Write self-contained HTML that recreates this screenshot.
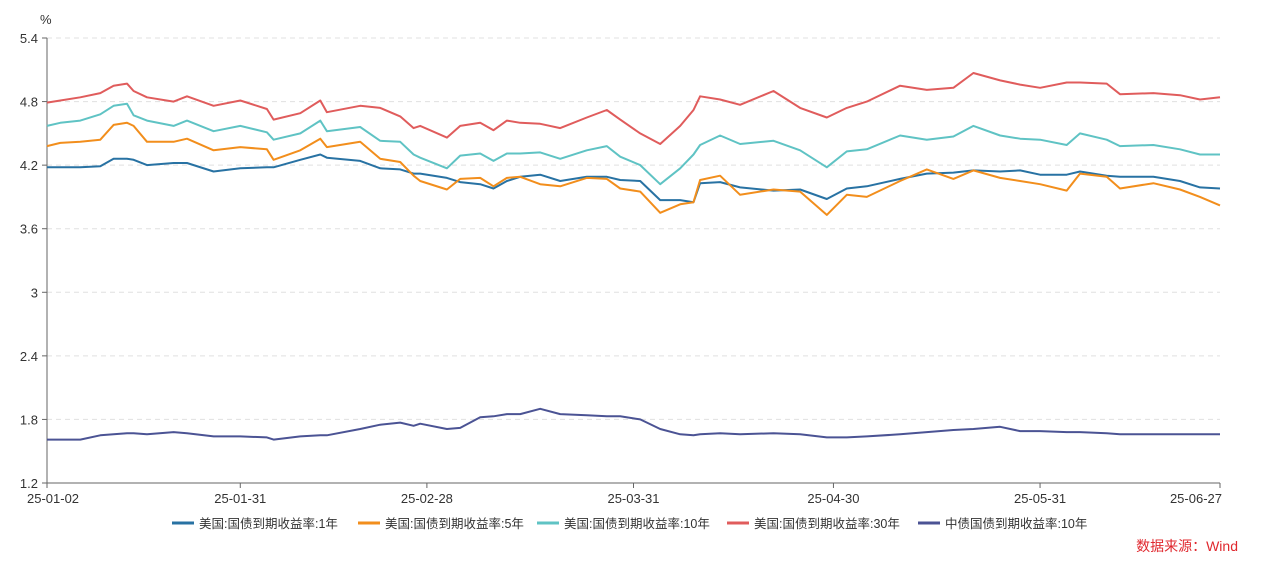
<!DOCTYPE html>
<html><head><meta charset="utf-8"><style>
body{margin:0;background:#fff;font-family:"Liberation Sans","Noto Sans CJK SC",sans-serif}
svg text{font-family:"Liberation Sans","Noto Sans CJK SC",sans-serif}
</style></head><body>
<svg id="c" width="1266" height="567" xmlns="http://www.w3.org/2000/svg"></svg>
<script>
const days=[0,2,5,8,10,12,13,15,19,21,25,29,33,34,38,41,42,47,50,53,55,56,60,62,65,67,69,71,74,77,81,84,86,89,92,95,97,98,101,104,109,113,117,120,123,128,132,136,139,143,146,149,153,155,159,161,166,170,173,176];
const us1=[4.18,4.18,4.18,4.19,4.26,4.26,4.25,4.20,4.22,4.22,4.14,4.17,4.18,4.18,4.25,4.30,4.27,4.24,4.17,4.16,4.12,4.12,4.08,4.04,4.02,3.98,4.05,4.09,4.11,4.05,4.09,4.09,4.06,4.05,3.87,3.87,3.85,4.03,4.04,3.99,3.96,3.97,3.88,3.98,4.00,4.07,4.12,4.13,4.15,4.14,4.15,4.11,4.11,4.14,4.10,4.09,4.09,4.05,3.99,3.98];
const us5=[4.38,4.41,4.42,4.44,4.58,4.60,4.57,4.42,4.42,4.45,4.34,4.37,4.35,4.25,4.34,4.45,4.37,4.42,4.26,4.23,4.10,4.05,3.97,4.07,4.08,4.00,4.08,4.09,4.02,4.00,4.08,4.07,3.98,3.95,3.75,3.83,3.85,4.06,4.10,3.92,3.97,3.95,3.73,3.92,3.90,4.05,4.16,4.07,4.15,4.08,4.05,4.02,3.96,4.12,4.09,3.98,4.03,3.97,3.90,3.82];
const us10=[4.57,4.60,4.62,4.68,4.76,4.78,4.67,4.62,4.57,4.62,4.52,4.57,4.51,4.44,4.50,4.62,4.52,4.56,4.43,4.42,4.30,4.27,4.17,4.29,4.31,4.24,4.31,4.31,4.32,4.26,4.34,4.38,4.28,4.20,4.02,4.17,4.30,4.39,4.48,4.40,4.43,4.34,4.18,4.33,4.35,4.48,4.44,4.47,4.57,4.48,4.45,4.44,4.39,4.50,4.44,4.38,4.39,4.35,4.30,4.30];
const us30=[4.79,4.81,4.84,4.88,4.95,4.97,4.90,4.84,4.80,4.85,4.76,4.81,4.73,4.63,4.69,4.81,4.70,4.76,4.74,4.66,4.55,4.57,4.46,4.57,4.60,4.53,4.62,4.60,4.59,4.55,4.65,4.72,4.63,4.50,4.40,4.57,4.72,4.85,4.82,4.77,4.90,4.74,4.65,4.74,4.80,4.95,4.91,4.93,5.07,5.00,4.96,4.93,4.98,4.98,4.97,4.87,4.88,4.86,4.82,4.84];
const cn10=[1.61,1.61,1.61,1.65,1.66,1.67,1.67,1.66,1.68,1.67,1.64,1.64,1.63,1.61,1.64,1.65,1.65,1.71,1.75,1.77,1.74,1.76,1.71,1.72,1.82,1.83,1.85,1.85,1.90,1.85,1.84,1.83,1.83,1.80,1.71,1.66,1.65,1.66,1.67,1.66,1.67,1.66,1.63,1.63,1.64,1.66,1.68,1.70,1.71,1.73,1.69,1.69,1.68,1.68,1.67,1.66,1.66,1.66,1.66,1.66];
const yTicks=[1.2,1.8,2.4,3,3.6,4.2,4.8,5.4];
const xTickDays=[0,29,57,88,118,149,176];
const xTickLabels=["25-01-02","25-01-31","25-02-28","25-03-31","25-04-30","25-05-31","25-06-27"];
const seriesNames=["美国:国债到期收益率:1年","美国:国债到期收益率:5年","美国:国债到期收益率:10年","美国:国债到期收益率:30年","中债国债到期收益率:10年"];
const colors=["#2872a3","#f28e1c","#5fc3c4","#e05c5c","#4b5394"];
const all=[us1,us5,us10,us30,cn10];
const X0=47,X1=1220,Y0=483,Y1=38;
const xs=d=>X0+(d-0)/176*(X1-X0);
const ys=v=>Y0-(v-1.2)/(5.4-1.2)*(Y0-Y1);
const svg=document.getElementById('c');const NS="http://www.w3.org/2000/svg";
function mk(t,a,p){const e=document.createElementNS(NS,t);for(const k in a)e.setAttribute(k,a[k]);(p||svg).appendChild(e);return e;}
yTicks.forEach(v=>{const y=ys(v);
 const g=mk('line',{x1:X0,x2:X1,y1:y,y2:y,stroke:'#e0e0e0','stroke-dasharray':'5,4'});
 
 
 const tk=mk('line',{x1:X0-5,x2:X0,y1:y,y2:y,stroke:'#666'});
 
 
 const t=mk('text',{x:X0-9,y:y+5,'text-anchor':'end','font-size':13,fill:'#333'});t.textContent=String(v);
 
 
});
const ya=mk('line',{x1:X0,x2:X0,y1:Y1,y2:Y0,stroke:'#666'});


const xa=mk('line',{x1:X0,x2:X1,y1:Y0,y2:Y0,stroke:'#666'});


const unit=mk('text',{x:40,y:24,'font-size':13,fill:'#333'});unit.textContent='%';


xTickDays.forEach((d,i)=>{const x=xs(d);
 const tk=mk('line',{x1:x,x2:x,y1:Y0,y2:Y0+5,stroke:'#666'});
 
 
 const t=mk('text',{x:x,y:Y0+20,'text-anchor':i==0?'start':(i==xTickDays.length-1?'end':'middle'),'font-size':13,fill:'#333'});
 if(i==0)t.setAttribute('x',x-20);if(i==xTickDays.length-1)t.setAttribute('x',x+2);
 t.textContent=xTickLabels[i];
 
 
});
all.forEach((s,k)=>{
 const pts=s.map((v,i)=>xs(days[i]).toFixed(1)+','+ys(v).toFixed(1)).join(' ');
 const p=mk('polyline',{points:pts,fill:'none',stroke:colors[k],'stroke-width':2,'stroke-linejoin':'round'});
 
 
});
const lx=[172,358,537,727,918];
seriesNames.forEach((n,k)=>{
 const g=mk('g',{});
 
 
 mk('line',{x1:lx[k],x2:lx[k]+22,y1:523,y2:523,stroke:colors[k],'stroke-width':3},g);
 const t=mk('text',{x:lx[k]+27,y:528,'font-size':12.5,fill:'#333'},g);t.textContent=n;
});
const src=mk('text',{x:1238,y:551,'text-anchor':'end','font-size':14,fill:'#e0282e'});src.textContent='数据来源：Wind';


</script>
</body></html>
